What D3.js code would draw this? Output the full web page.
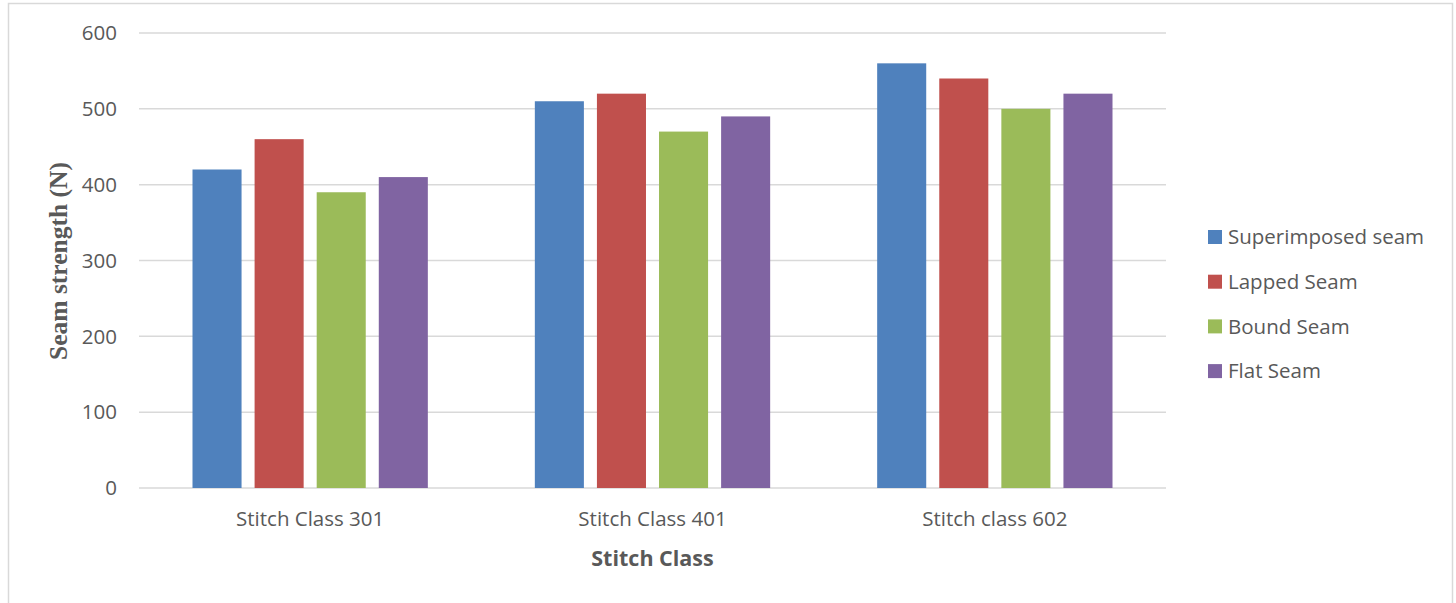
<!DOCTYPE html>
<html>
<head>
<meta charset="utf-8">
<script src="https://d3js.org/d3.v7.min.js"></script>
<style>
  body { margin: 0; background: #fff; }
  text { font-family: "Open Sans", "Liberation Sans", sans-serif; fill: #595959; }
</style>
</head>
<body>
<div id="chart"></div>
<script>
// chart data
var categories = ["Stitch Class 301", "Stitch Class 401", "Stitch class 602"];
var seriesNames = ["Superimposed seam", "Lapped Seam", "Bound Seam", "Flat Seam"];
var superimposed = [420, 510, 560];
var lapped = [460, 520, 540];
var bound = [390, 470, 500];
var flat = [410, 490, 520];
var yTicks = [0, 100, 200, 300, 400, 500, 600];
var colors = ["#4f81bd", "#c0504d", "#9bbb59", "#8064a2"];

var seriesValues = [superimposed, lapped, bound, flat];

var W = 1456, H = 603;
var margin = { top: 33, left: 139, right: 290, bottom: 115 };
var plotW = W - margin.left - margin.right,
    plotH = H - margin.top - margin.bottom;

var svg = d3.select("#chart").append("svg")
    .attr("width", W)
    .attr("height", H);

// outer chart border
svg.append("rect")
    .attr("x", 8.5).attr("y", 3.5)
    .attr("width", 1444).attr("height", 620)
    .attr("fill", "none")
    .attr("stroke", "#d9d9d9")
    .attr("stroke-width", 1.5);

var g = svg.append("g")
    .attr("transform", "translate(" + margin.left + "," + margin.top + ")");

var y = d3.scaleLinear().domain([0, 600]).range([plotH, 0]);
var x0 = d3.scaleBand().domain(categories).range([0, plotW]).paddingInner(0).paddingOuter(0);
var x1 = d3.scaleBand().domain(seriesNames).range([53.5, x0.bandwidth() - 53.5]).paddingInner(0.21).paddingOuter(0);

// gridlines
g.selectAll(".grid")
    .data(yTicks)
  .enter().append("line")
    .attr("x1", 0).attr("x2", plotW)
    .attr("y1", function(d) { return y(d); })
    .attr("y2", function(d) { return y(d); })
    .attr("stroke", "#d9d9d9")
    .attr("stroke-width", 1.5);

// y tick labels
g.selectAll(".ylab")
    .data(yTicks)
  .enter().append("text")
    .attr("x", -22)
    .attr("y", function(d) { return y(d); })
    .attr("dy", "0.35em")
    .attr("text-anchor", "end")
    .style("font-size", "20.5px")
    .text(function(d) { return d; });

// bars
var groups = g.selectAll(".grp")
    .data(categories)
  .enter().append("g")
    .attr("transform", function(d) { return "translate(" + x0(d) + ",0)"; });

groups.selectAll("rect")
    .data(function(d, i) { return seriesNames.map(function(s, j) { return { s: s, v: seriesValues[j][i], c: colors[j] }; }); })
  .enter().append("rect")
    .attr("x", function(d) { return x1(d.s); })
    .attr("y", function(d) { return y(d.v); })
    .attr("width", x1.bandwidth())
    .attr("height", function(d) { return plotH - y(d.v); })
    .attr("fill", function(d) { return d.c; });

// x labels
g.selectAll(".xlab")
    .data(categories)
  .enter().append("text")
    .attr("x", function(d) { return x0(d) + x0.bandwidth() / 2; })
    .attr("y", plotH + 38)
    .attr("text-anchor", "middle")
    .style("font-size", "20.5px")
    .text(function(d) { return d; });

// axis titles
g.append("text")
    .attr("x", plotW / 2)
    .attr("y", plotH + 78)
    .attr("text-anchor", "middle")
    .style("font-size", "21.5px")
    .style("font-weight", "bold")
    .text("Stitch Class");

svg.append("text")
    .attr("transform", "translate(67," + (margin.top + 228) + ") rotate(-90)")
    .attr("text-anchor", "middle")
    .style("font-family", "'Liberation Serif', 'DejaVu Serif', serif")
    .style("font-size", "25.5px")
    .style("font-weight", "bold")
    .text("Seam strength (N)");

// legend
var legend = svg.selectAll(".legend")
    .data(seriesNames)
  .enter().append("g")
    .attr("transform", function(d, i) { return "translate(1208," + (237 + i * 44.7) + ")"; });

legend.append("rect")
    .attr("x", 0).attr("y", -7)
    .attr("width", 14).attr("height", 14)
    .attr("fill", function(d, i) { return colors[i]; });

legend.append("text")
    .attr("x", 20)
    .attr("dy", "0.35em")
    .style("font-size", "20.5px")
    .text(function(d) { return d; });
</script>
</body>
</html>
